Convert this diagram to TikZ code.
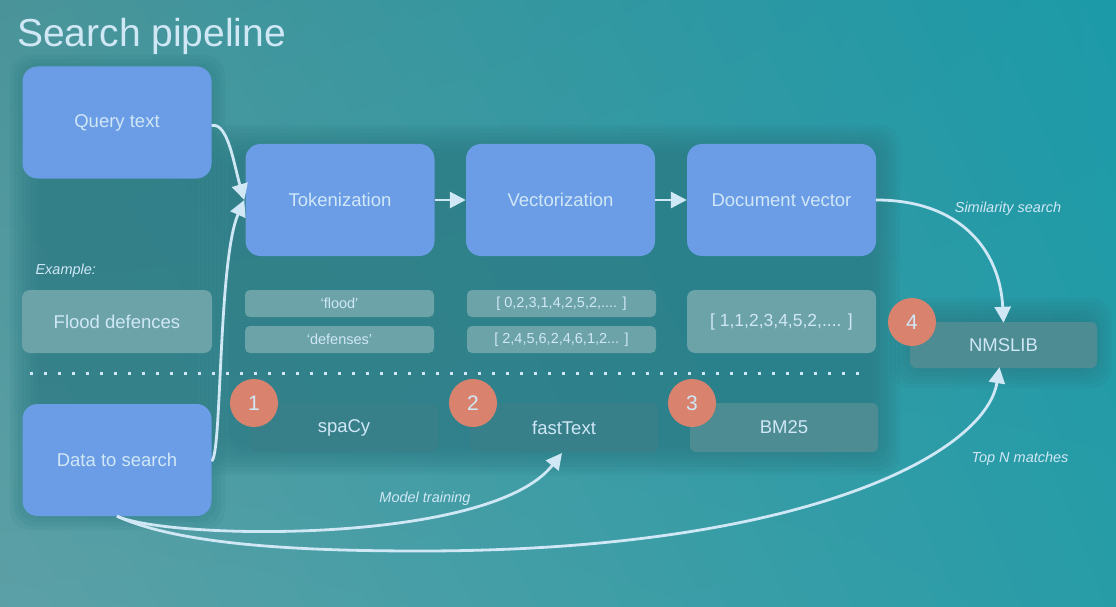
\documentclass[tikz,border=0pt]{standalone}
\usepackage{fontspec}
\setmainfont{Liberation Sans}
\usetikzlibrary{arrows.meta,shadings}
\definecolor{bgUL}{HTML}{4A9499}
\definecolor{bgUR}{HTML}{1C9AA8}
\definecolor{bgLL}{HTML}{5CA0A6}
\definecolor{bgLR}{HTML}{279CA7}
\definecolor{band}{HTML}{2B7882}
\definecolor{boxblue}{HTML}{6B9DE6}
\definecolor{txt}{HTML}{D0E7F6}
\definecolor{tbox}{HTML}{6CA3A9}
\definecolor{dbox}{HTML}{4C8C92}
\definecolor{fbox}{HTML}{37808A}
\definecolor{badge}{HTML}{D9826E}
\tikzset{
  bluebox/.style={rectangle, rounded corners=15pt, fill=boxblue, text=txt,
    minimum width=189pt, minimum height=112pt, inner sep=0pt,
    font=\fontsize{18.5}{22}\selectfont},
  tbx/.style={rectangle, rounded corners=8pt, fill=tbox, text=txt, inner sep=0pt,
    font=\fontsize{14.5}{17}\selectfont},
  dbx/.style={rectangle, rounded corners=6pt, fill=dbox, text=txt, inner sep=0pt,
    font=\fontsize{18.5}{22}\selectfont},
  numc/.style={circle, fill=badge, text=txt, minimum size=48pt, inner sep=0pt,
    font=\fontsize{21}{25}\selectfont},
  conn/.style={draw=txt, line width=2.8pt, -{Triangle[length=16pt,width=16pt]}},
  lbl/.style={text=txt, font=\fontsize{14.5}{17}\selectfont\itshape},
  soft/.style={fill=band, opacity=0.13, rounded corners=20pt}
}
\begin{document}
\begin{tikzpicture}[x=1pt,y=-1pt]
\useasboundingbox (0,0) rectangle (1116,607);
\shade[upper left=bgUL, upper right=bgUR, lower left=bgLL, lower right=bgLR] (0,0) rectangle (1116,607);
% soft dark band
\foreach \d in {0,4,...,28}{
  \fill[soft] (200+\d,125+\d) rectangle (900-\d,475-\d);
  \fill[soft] (10+\d,55+\d) rectangle (225-\d,530-\d);
  \fill[soft] (890+\d,298+\d) rectangle (1112-\d,388-\d);
}
% title
\node[anchor=base west, text=txt, font=\fontsize{39}{45}\selectfont, inner sep=0pt] (title) at (17,47) {Search pipeline};
% main boxes
\node[bluebox] (query) at (117,122.5) {Query text};
\node[bluebox] (tok) at (340,200) {Tokenization};
\node[bluebox] (vec) at (560.5,200) {Vectorization};
\node[bluebox] (doc) at (781.5,200) {Document vector};
\node[bluebox] (data) at (117,460) {Data to search};
% example row
\node[lbl, anchor=west] (ex) at (32,271) {Example:};
\node[tbx, minimum width=190pt, minimum height=63pt, font=\fontsize{18.5}{22}\selectfont] (flood) at (117,321.5) {Flood defences};
\node[tbx, minimum width=189pt, minimum height=27pt, rounded corners=5pt] (w1) at (339.5,303.5) {‘flood’};
\node[tbx, minimum width=189pt, minimum height=27pt, rounded corners=5pt] (w2) at (339.5,339.5) {‘defenses’};
\node[tbx, minimum width=189pt, minimum height=27pt, rounded corners=5pt] (v1) at (561.5,303.5) {[ 0,2,3,1,4,2,5,2,.... ]};
\node[tbx, minimum width=189pt, minimum height=27pt, rounded corners=5pt] (v2) at (561.5,339.5) {[ 2,4,5,6,2,4,6,1,2... ]};
\node[tbx, minimum width=189pt, minimum height=63pt, font=\fontsize{17.5}{21}\selectfont] (dv) at (781.5,321.5) {[ 1,1,2,3,4,5,2,.... ]};
% dotted separator
\draw[txt, line width=3pt, dash pattern=on 3pt off 11pt] (30,373) -- (870,373);
% tools
\node[dbx, minimum width=187pt, minimum height=46pt] (nms) at (1003.5,345) {NMSLIB};
\node[dbx, fill=fbox, minimum width=188pt, minimum height=49pt] (spacy) at (344,427.5) {spaCy};
\node[dbx, fill=fbox, minimum width=188pt, minimum height=49pt] (ft) at (564,427.5) {fastText};
\node[dbx, minimum width=188pt, minimum height=49pt] (bm) at (784,427.5) {BM25};
\node[numc] (n1) at (254,403) {1};
\node[numc] (n2) at (473,403) {2};
\node[numc] (n3) at (692,403) {3};
\node[numc] (n4) at (912,322) {4};
% connectors
\coordinate (tokin) at ([xshift=-1pt]tok.west);
\draw[conn] ([yshift=-3pt]query.east) .. controls (228,122) and (234,165) .. (tokin);
\draw[conn] ([yshift=-1pt]data.east) .. controls (222,455) and (218,260) .. (tokin);
\draw[conn] (tok.east) -- (vec.west);
\draw[conn] (vec.east) -- (doc.west);
\draw[conn] (doc.east) .. controls (960,200) and (1000,250) .. ([yshift=-1pt]nms.north);
\coordinate (ftin) at (562,453);
\draw[conn] (data.south) .. controls (170,540) and (490,545) .. (ftin);
\coordinate (mid) at (420,551);
\draw[conn] (data.south) .. controls (180,545) and (300,551) .. (mid)
  .. controls (800,551) and (985,455) .. ([xshift=-4pt,yshift=1pt]nms.south);
% labels
\node[lbl] (simlbl) at (1008,209) {Similarity search};
\node[lbl] (toplbl) at (1020,459) {Top N matches};
\node[lbl] (mtlbl) at (425,499) {Model training};
\end{tikzpicture}
\end{document}
